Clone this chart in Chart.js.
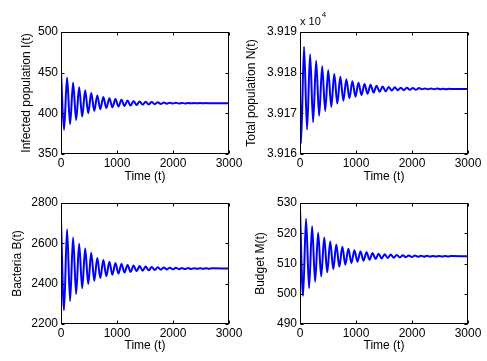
<!DOCTYPE html>
<html>
<head>
<meta charset="utf-8">
<script src="https://cdn.jsdelivr.net/npm/chart.js@4.4.0/dist/chart.umd.min.js"></script>
<style>
html, body { margin: 0; padding: 0; background: #fff; }
#wrap { position: relative; width: 487px; height: 361px; }
#wrap canvas { position: absolute; left: 0; top: 0; }
</style>
</head>
<body>
<div id="wrap">
  <canvas id="cI" width="487" height="361"></canvas>
  <canvas id="cN" width="487" height="361"></canvas>
  <canvas id="cB" width="487" height="361"></canvas>
  <canvas id="cM" width="487" height="361"></canvas>
</div>
<script>
// extrema of the damped oscillations (time, value)
var extremaTime = [0, 54, 108, 162, 216, 270, 324, 378, 432, 486, 540, 594, 648, 702, 756, 810, 864, 918, 972, 1026,
  1080, 1134, 1188, 1242, 1296, 1350, 1404, 1458, 1512, 1566, 1620, 1674, 1728, 1782, 1836, 1890, 1944, 1998, 2052, 2106,
  2160, 2214, 2268, 2322, 2376, 2430, 2484, 2538, 2592, 2646, 2700, 3000];

var infectedI = [451, 379.5, 444, 386.5, 437.5, 392, 432, 396, 428.5, 400,
  425, 403, 422, 405, 420, 406.5, 418.5, 407.5, 417.5, 408.3,
  416.6, 409, 415.8, 409.6, 415.1, 410.2, 414.6, 410.6, 414.2, 411,
  413.8, 411.3, 413.5, 411.6, 413.3, 411.8, 413.1, 412, 412.95, 412.1,
  412.85, 412.2, 412.75, 412.25, 412.7, 412.3, 412.65, 412.35, 412.6, 412.4,
  412.55, 412.5];

var bacteriaB = [2712, 2268, 2670, 2314, 2629, 2349, 2598, 2377, 2574, 2399,
  2553, 2414, 2527, 2428, 2517, 2437, 2509, 2444, 2503, 2450,
  2497.5, 2455, 2493, 2458.5, 2490, 2461.5, 2487, 2464, 2484.8, 2466.2,
  2482.9, 2467.9, 2481.4, 2469.2, 2480.2, 2470.3, 2479.2, 2471.2, 2478.4, 2471.9,
  2477.8, 2472.5, 2477.2, 2473, 2476.8, 2473.4, 2476.5, 2473.7, 2476.2, 2473.9,
  2476, 2475];

var budgetM = [528.0, 499.3, 524.8, 501.8, 522.3, 504.0, 520.2, 505.7, 518.6, 507.1,
  517.3, 508.1, 516.3, 508.9, 515.5, 509.6, 514.9, 510.2, 514.4, 510.6,
  514.0, 510.95, 513.7, 511.25, 513.45, 511.47, 513.24, 511.65, 513.07, 511.8,
  512.94, 511.92, 512.83, 512.01, 512.75, 512.09, 512.68, 512.15, 512.62, 512.2,
  512.58, 512.24, 512.54, 512.27, 512.52, 512.3, 512.49, 512.32, 512.47, 512.34,
  512.45, 512.4];

// total population is shifted in phase, values in units of 10^4
var nTime = [0, 18, 72, 126, 180, 234, 288, 342, 396, 450, 504, 558, 612, 666, 720, 774, 828, 882, 936, 990,
  1044, 1098, 1152, 1206, 1260, 1314, 1368, 1422, 1476, 1530, 1584, 1638, 1692, 1746, 1800, 1854, 1908, 1962, 2016,
  2070, 2124, 2178, 2232, 2286, 2340, 2394, 2448, 2502, 2556, 2610, 2664, 2718, 3000];

var totalN = [3.91753,
  3.91626, 3.91864, 3.91660, 3.91845, 3.91678, 3.91829, 3.91694, 3.91816, 3.91706, 3.91806,
  3.91716, 3.91797, 3.91724, 3.91790, 3.91731, 3.91784, 3.91737, 3.91779, 3.91741, 3.91775,
  3.91745, 3.91772, 3.91748, 3.91770, 3.91751, 3.91768, 3.91753, 3.91766, 3.91754, 3.91765,
  3.91756, 3.91764, 3.91757, 3.91763, 3.91757, 3.91763, 3.91758, 3.91762, 3.91758, 3.91762,
  3.91759, 3.91761, 3.91759, 3.91761, 3.91759, 3.91761, 3.917595, 3.917605, 3.917595, 3.917603, 3.917597,
  3.9176];

var timeTicks = [0, 1000, 2000, 3000];
var iTicks = [350, 400, 450, 500];
var nTicks = [3.916, 3.917, 3.918, 3.919];
var bTicks = [2200, 2400, 2600, 2800];
var mTicks = [490, 500, 510, 520, 530];

Chart.defaults.font.family = '"Liberation Sans", Arial, Helvetica, sans-serif';
Chart.defaults.font.size = 12;
Chart.defaults.color = '#000';

// matlab style box with inward ticks on all four sides
var matlabBox = {
  id: 'matlabBox',
  afterDraw: function (chart, args, opts) {
    var c = chart.ctx, a = chart.chartArea, xs = chart.scales.x, ys = chart.scales.y;
    var l = Math.round(a.left) + 0.5, r = Math.round(a.right) - 0.5,
        t = Math.round(a.top) + 0.5, b = Math.round(a.bottom) - 0.5, tl = 3;
    c.save();
    c.strokeStyle = '#000';
    c.lineWidth = 1;
    c.strokeRect(l, t, r - l, b - t);
    c.beginPath();
    xs.ticks.forEach(function (tk) {
      var p = Math.round(xs.getPixelForValue(tk.value)) + 0.5;
      c.moveTo(p, b); c.lineTo(p, b - tl);
      c.moveTo(p, t); c.lineTo(p, t + tl);
    });
    ys.ticks.forEach(function (tk) {
      var p = Math.round(ys.getPixelForValue(tk.value)) + 0.5;
      c.moveTo(l, p); c.lineTo(l + tl, p);
      c.moveTo(r, p); c.lineTo(r - tl, p);
    });
    c.stroke();
    if (opts && opts.exponent) {
      c.fillStyle = '#000';
      c.textBaseline = 'middle';
      c.textAlign = 'left';
      c.font = '11px "Liberation Sans", Arial, sans-serif';
      c.fillText('x 10', a.left, a.top - 10);
      var w = c.measureText('x 10').width;
      c.font = '8px "Liberation Sans", Arial, sans-serif';
      c.fillText(opts.exponent, a.left + w + 1, a.top - 17);
    }
    c.restore();
  }
};

function toPoints(ts, vs) {
  return ts.map(function (t, i) { return { x: t, y: vs[i] }; });
}

function makeChart(id, ts, vs, cfg) {
  var yt = cfg.ticks;
  return new Chart(document.getElementById(id).getContext('2d'), {
    type: 'line',
    data: {
      datasets: [{
        data: toPoints(ts, vs),
        borderColor: '#0000ff',
        borderWidth: 2,
        pointRadius: 0,
        fill: false,
        cubicInterpolationMode: 'monotone'
      }]
    },
    options: {
      responsive: false,
      animation: false,
      events: [],
      layout: { padding: cfg.pad },
      plugins: {
        legend: { display: false },
        tooltip: { enabled: false },
        matlabBox: { exponent: cfg.exponent || null }
      },
      scales: {
        x: {
          type: 'linear',
          min: timeTicks[0],
          max: timeTicks[timeTicks.length - 1],
          grid: { display: false, drawTicks: false },
          border: { display: false },
          ticks: {
            padding: 2,
            maxRotation: 0,
            autoSkip: false,
            stepSize: timeTicks[1] - timeTicks[0],
            callback: function (v) { return String(v); }
          },
          title: { display: true, text: 'Time (t)', padding: 0 },
          afterFit: function (s) { s.height = cfg.xh; }
        },
        y: {
          type: 'linear',
          min: yt[0],
          max: yt[yt.length - 1],
          grid: { display: false, drawTicks: false },
          border: { display: false },
          ticks: {
            padding: 3,
            autoSkip: false,
            stepSize: yt[1] - yt[0],
            callback: cfg.fmt || function (v) { return String(v); }
          },
          title: { display: true, text: cfg.title, padding: 0 },
          afterFit: function (s) { s.width = cfg.yw; }
        }
      }
    },
    plugins: [matlabBox]
  });
}

makeChart('cI', extremaTime, infectedI, {
  ticks: iTicks, title: 'Infected population I(t)',
  pad: { left: 19, top: 32, right: 258, bottom: 177 }, yw: 42, xh: 30
});
makeChart('cN', nTime, totalN, {
  ticks: nTicks, title: 'Total population N(t)', exponent: '4',
  fmt: function (v) { return v.toFixed(3); },
  pad: { left: 244, top: 32, right: 19, bottom: 177 }, yw: 56, xh: 30
});
makeChart('cB', extremaTime, bacteriaB, {
  ticks: bTicks, title: 'Bacteria B(t)',
  pad: { left: 10, top: 203, right: 258, bottom: 8 }, yw: 51, xh: 29
});
makeChart('cM', extremaTime, budgetM, {
  ticks: mTicks, title: 'Budget M(t)',
  pad: { left: 253, top: 203, right: 19, bottom: 8 }, yw: 47, xh: 29
});
</script>
</body>
</html>
